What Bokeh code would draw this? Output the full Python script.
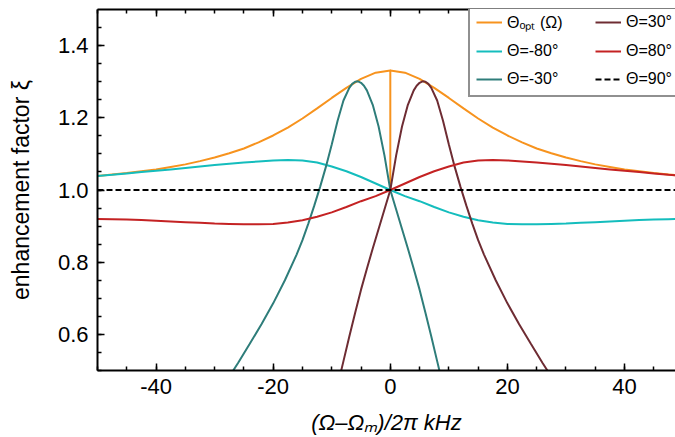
from bokeh.plotting import figure
from bokeh.models import (Range1d, LinearAxis, SingleIntervalTicker, Legend, LegendItem,
                          PrintfTickFormatter, CustomLabelingPolicy)
from bokeh.embed import file_html
from bokeh.resources import INLINE

# ---- data ----
opt_x = [-50, -47.5, -45, -42.5, -40, -37.5, -35, -32.5, -30, -27.5, -25, -22.5, -20, -17.5, -15, -12.5,
         -10, -7.5, -5, -2.5, 0, 0, 0, 2.5, 5, 7.5, 10, 12.5, 15, 17.5, 20, 22.5, 25, 27.5, 30, 32.5,
         35, 37.5, 40, 42.5, 45, 47.5, 50]
opt_y = [1.039, 1.043, 1.047, 1.052, 1.057, 1.064, 1.071, 1.080, 1.090, 1.102, 1.115, 1.132, 1.151, 1.173,
         1.198, 1.226, 1.255, 1.283, 1.308, 1.325, 1.331, 1.000, 1.331, 1.325, 1.308, 1.283, 1.255, 1.226,
         1.198, 1.173, 1.151, 1.132, 1.115, 1.102, 1.090, 1.080, 1.071, 1.064, 1.057, 1.052, 1.047, 1.043,
         1.039]

wide_x = [-50, -47.5, -45, -42.5, -40, -37.5, -35, -32.5, -30, -27.5, -25, -22.5, -20, -17.5, -15, -12.5,
          -10, -7.5, -5, -2.5, 0, 2.5, 5, 7.5, 10, 12.5, 15, 17.5, 20, 22.5, 25, 27.5, 30, 32.5, 35, 37.5,
          40, 42.5, 45, 47.5, 50]
m80_y = [1.039, 1.042, 1.046, 1.050, 1.053, 1.057, 1.061, 1.065, 1.069, 1.073, 1.076, 1.079, 1.082, 1.083,
         1.082, 1.076, 1.065, 1.052, 1.036, 1.018, 1.000, 0.983, 0.969, 0.953, 0.938, 0.926, 0.916, 0.910,
         0.906, 0.905, 0.905, 0.906, 0.907, 0.909, 0.911, 0.913, 0.915, 0.917, 0.918, 0.919, 0.920]
p80_y = [0.920, 0.919, 0.918, 0.917, 0.915, 0.913, 0.911, 0.909, 0.907, 0.906, 0.905, 0.905, 0.906, 0.910,
         0.916, 0.926, 0.938, 0.953, 0.969, 0.983, 1.000, 1.018, 1.036, 1.052, 1.065, 1.076, 1.082, 1.083,
         1.082, 1.079, 1.076, 1.073, 1.069, 1.065, 1.061, 1.057, 1.053, 1.050, 1.046, 1.042, 1.039]

m30_x = [-28, -26, -24, -22, -20, -18, -16, -15, -14, -13, -12, -11, -10, -9, -8, -7, -6.5, -6, -5.5, -5,
         -4.5, -4, -3, -2, -1, 0, 1, 2, 3, 4, 5, 6, 7, 8, 9]
m30_y = [0.470, 0.521, 0.574, 0.628, 0.686, 0.750, 0.821, 0.861, 0.907, 0.956, 1.008, 1.064, 1.126, 1.192,
         1.248, 1.283, 1.294, 1.300, 1.301, 1.297, 1.289, 1.276, 1.236, 1.176, 1.096, 1.000, 0.946, 0.892,
         0.838, 0.782, 0.724, 0.660, 0.594, 0.526, 0.458]
p30_x = [-9, -8, -7, -6, -5, -4, -3, -2, -1, 0, 1, 2, 3, 4, 4.5, 5, 5.5, 6, 6.5, 7, 8, 9, 10, 11, 12, 13,
         14, 15, 16, 18, 20, 22, 24, 26, 28]
p30_y = [0.458, 0.526, 0.594, 0.660, 0.724, 0.782, 0.838, 0.892, 0.946, 1.000, 1.096, 1.176, 1.236, 1.276,
         1.289, 1.297, 1.301, 1.300, 1.294, 1.283, 1.248, 1.192, 1.126, 1.064, 1.008, 0.956, 0.907, 0.861,
         0.821, 0.750, 0.686, 0.628, 0.574, 0.521, 0.470]

ref_x = [-50, 50]
ref_y = [1.0, 1.0]

labels = ["Θₒₚₜ (Ω)", "Θ=-80°", "Θ=-30°", "Θ=30°", "Θ=80°", "Θ=90°"]
colors = ["#F7931E", "#14BDBD", "#2E7D7A", "#6E2C33", "#C42223", "#000000"]

FONT = "Liberation Sans"

p = figure(width=675, height=437, x_range=Range1d(-50, 48.7), y_range=Range1d(0.5, 1.5),
           output_backend="svg", toolbar_location=None,
           min_border_left=97, min_border_right=0, min_border_top=9, min_border_bottom=67)
p.xgrid.visible = False
p.ygrid.visible = False
p.outline_line_color = None
p.background_fill_color = "white"

r_opt = p.line(opt_x, opt_y, color=colors[0], line_width=2)
r_m80 = p.line(wide_x, m80_y, color=colors[1], line_width=2)
r_m30 = p.line(m30_x, m30_y, color=colors[2], line_width=2)
r_p30 = p.line(p30_x, p30_y, color=colors[3], line_width=2)
r_p80 = p.line(wide_x, p80_y, color=colors[4], line_width=2)
r_ref = p.line(ref_x, ref_y, color=colors[5], line_width=2, line_dash="6 3")

bottom = p.below[0]
left = p.left[0]
top_axis = LinearAxis()
p.add_layout(top_axis, "above")

bottom.ticker = SingleIntervalTicker(interval=20, num_minor_ticks=4)
bottom.formatter = PrintfTickFormatter(format="%d")
top_axis.ticker = SingleIntervalTicker(interval=20, num_minor_ticks=4)
left.ticker = SingleIntervalTicker(interval=0.2, num_minor_ticks=4)
left.formatter = PrintfTickFormatter(format="%.1f")

for ax in [bottom, left, top_axis]:
    ax.axis_line_width = 2
    ax.axis_line_color = "black"
    ax.major_tick_line_width = 1.5
    ax.minor_tick_line_width = 1.5
    ax.major_tick_line_color = "black"
    ax.minor_tick_line_color = "black"
    ax.major_tick_in = 7
    ax.major_tick_out = 0
    ax.minor_tick_in = 4
    ax.minor_tick_out = 0
    ax.major_label_text_font = FONT
    ax.major_label_text_font_size = "22px"
    ax.major_label_text_color = "black"
    ax.axis_label_text_font = FONT
    ax.axis_label_text_font_size = "22px"
    ax.axis_label_text_color = "black"

top_axis.major_label_text_font_size = "1px"
top_axis.major_label_standoff = 0
top_axis.axis_label = None
top_axis.major_label_policy = CustomLabelingPolicy(
    code="const a = [...indices]; for (const i of a) { indices.unset(i) } return indices")

bottom.axis_label = "(Ω–Ωₘ)/2π kHz"
bottom.axis_label_text_font_style = "italic"
bottom.major_label_standoff = 8
bottom.axis_label_standoff = 13
left.axis_label = "enhancement factor ξ"
left.axis_label_text_font_style = "normal"
left.axis_label_text_font_size = "23px"
left.major_label_standoff = 9
left.axis_label_standoff = 21

legend = Legend(items=[LegendItem(label=labels[0], renderers=[r_opt]),
                       LegendItem(label=labels[1], renderers=[r_m80]),
                       LegendItem(label=labels[2], renderers=[r_m30]),
                       LegendItem(label=labels[3], renderers=[r_p30]),
                       LegendItem(label=labels[4], renderers=[r_p80]),
                       LegendItem(label=labels[5], renderers=[r_ref])],
                location=(371, 273), orientation="vertical", nrows=3,
                label_text_font=FONT, label_text_font_size="16px", label_text_color="black",
                glyph_width=26, glyph_height=20, label_height=20, label_width=80, label_standoff=5,
                spacing=8, padding=6, margin=0,
                border_line_color="#222222", border_line_width=2, background_fill_alpha=1.0)
p.add_layout(legend, "center")

open("out.html", "w").write(file_html(p, INLINE))
